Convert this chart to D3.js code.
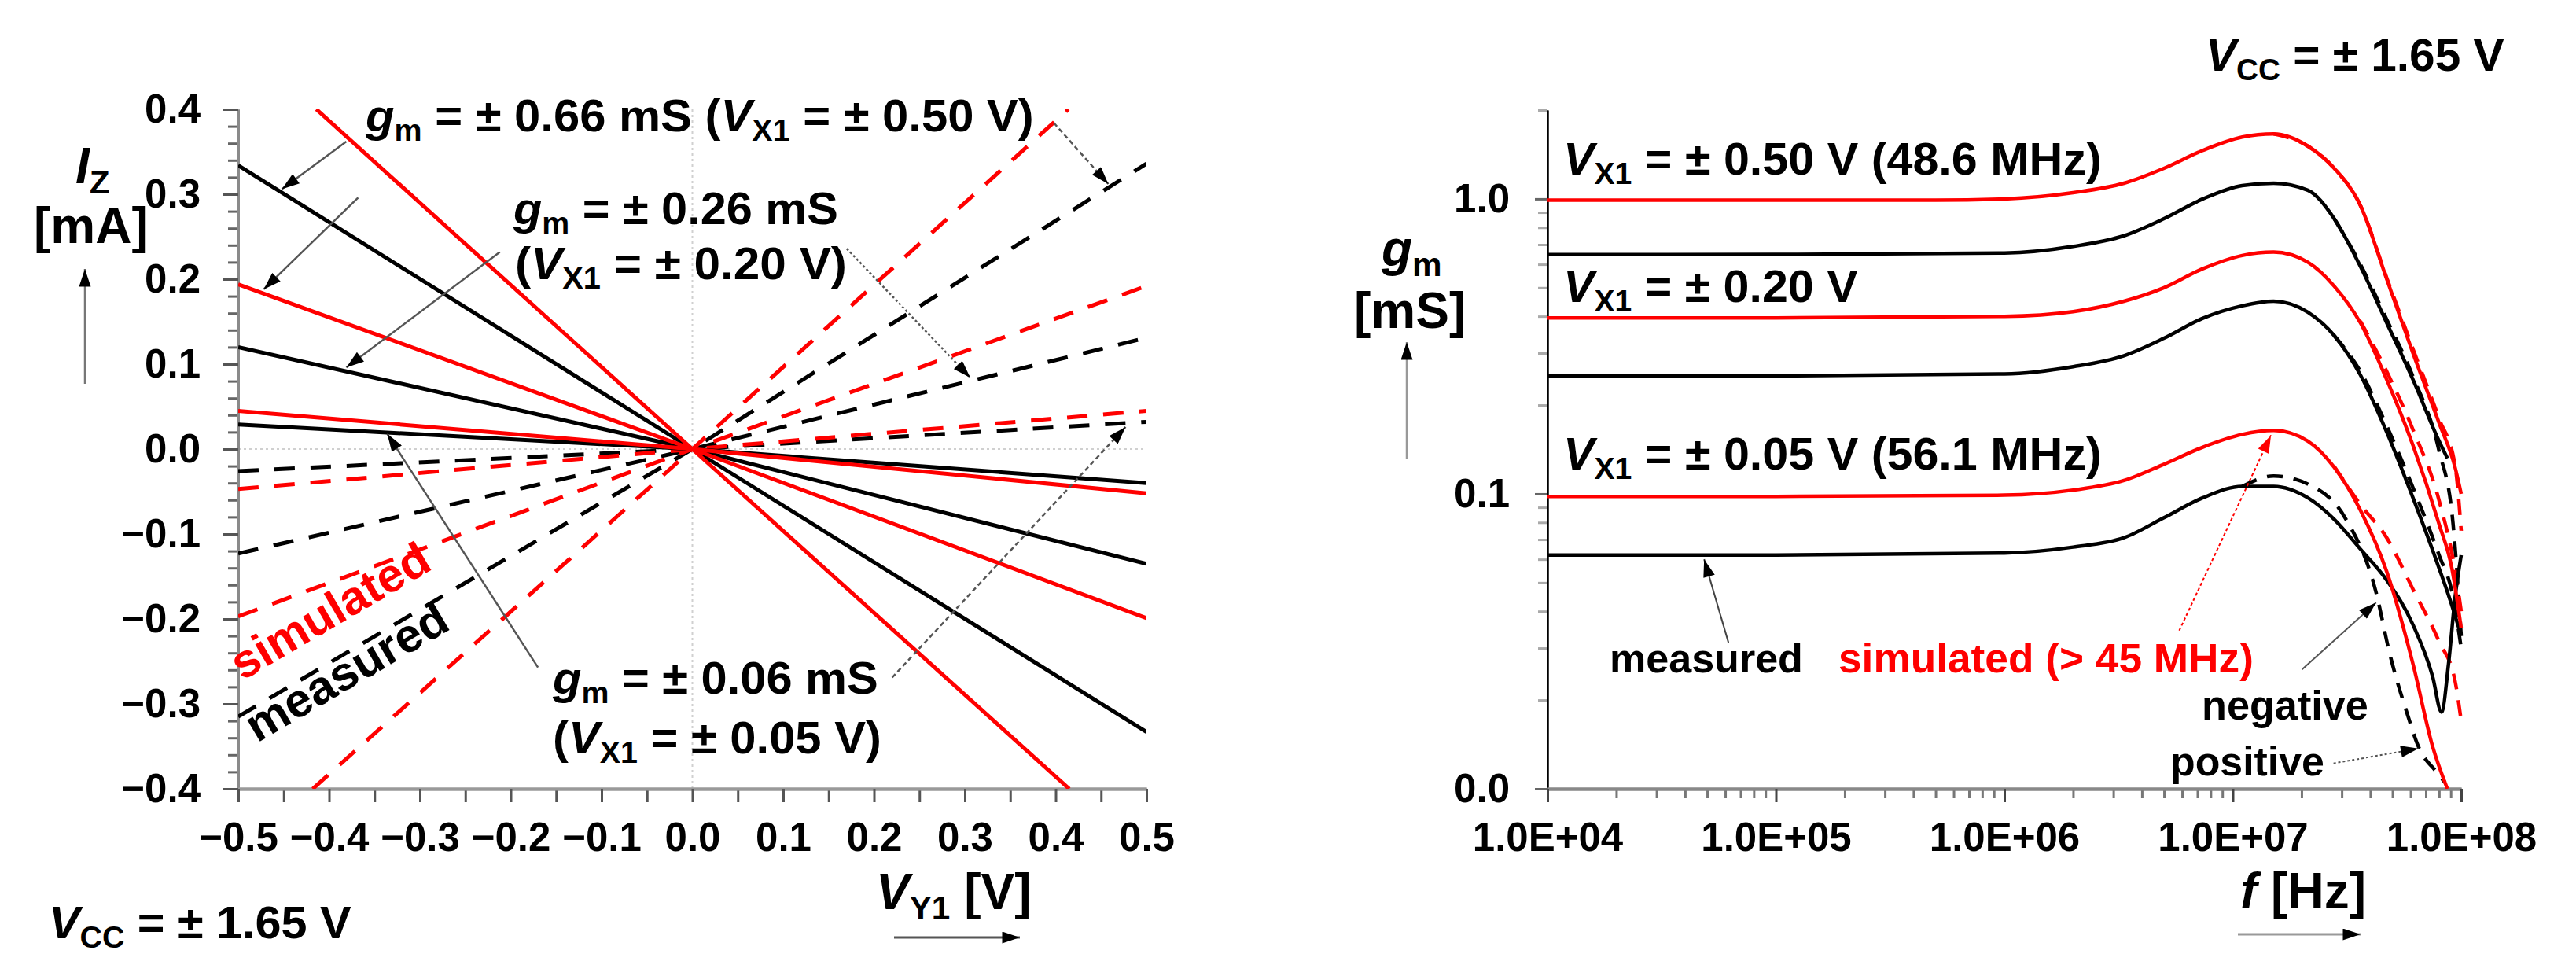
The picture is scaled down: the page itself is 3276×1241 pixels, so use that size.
<!DOCTYPE html>
<html>
<head>
<meta charset="utf-8">
<script src="https://cdn.jsdelivr.net/npm/d3@7"></script>
<style>
body { margin: 0; background: #fff; }
text { font-family: "Liberation Sans", Arial, sans-serif; font-weight: bold; }
</style>
</head>
<body>
<svg id="chart" width="3276" height="1241"></svg>
<script>
var RED = "#ff0000";
var BLACK = "#000000";

// ---- left panel: I_Z [mA] vs V_Y1 [V] ----
var vy1Major = [-0.5, -0.4, -0.3, -0.2, -0.1, 0.0, 0.1, 0.2, 0.3, 0.4, 0.5];
var vy1Minor = [-0.45, -0.35, -0.25, -0.15, -0.05, 0.05, 0.15, 0.25, 0.35, 0.45];
var izMajor = [-0.4, -0.3, -0.2, -0.1, 0.0, 0.1, 0.2, 0.3, 0.4];
var izMinor = [-0.38, -0.36, -0.34, -0.32, -0.28, -0.26, -0.24, -0.22, -0.18, -0.16, -0.14, -0.12,
               -0.08, -0.06, -0.04, -0.02, 0.02, 0.04, 0.06, 0.08, 0.12, 0.14, 0.16, 0.18,
               0.22, 0.24, 0.26, 0.28, 0.32, 0.34, 0.36, 0.38];

// [V_Y1, I_Z]
var simSolid066 = [[-0.414, 0.40], [0, 0], [0.415, -0.40]];
var measSolid066 = [[-0.5, 0.334], [0, 0], [0.5, -0.333]];
var simSolid026 = [[-0.5, 0.194], [0, 0], [0.5, -0.199]];
var measSolid026 = [[-0.5, 0.120], [0, 0], [0.5, -0.135]];
var simSolid006 = [[-0.5, 0.045], [0, 0], [0.5, -0.052]];
var measSolid006 = [[-0.5, 0.029], [0, 0], [0.5, -0.040]];
var simDash066 = [[-0.418, -0.40], [0, 0], [0.414, 0.40]];
var measDash066 = [[-0.5, -0.315], [0, 0], [0.5, 0.336]];
var simDash026 = [[-0.5, -0.197], [0, 0], [0.5, 0.192]];
var measDash026 = [[-0.5, -0.123], [0, 0], [0.5, 0.131]];
var simDash006 = [[-0.5, -0.047], [0, 0], [0.5, 0.045]];
var measDash006 = [[-0.5, -0.026], [0, 0], [0.5, 0.032]];

// ---- right panel: g_m [mS] vs f [Hz] ----
var fMajor = [1e4, 1e5, 1e6, 1e7, 1e8];
var fLabels = ["1.0E+04", "1.0E+05", "1.0E+06", "1.0E+07", "1.0E+08"];
var fMinor = [2e4, 3e4, 4e4, 5e4, 6e4, 7e4, 8e4, 9e4,
              2e5, 3e5, 4e5, 5e5, 6e5, 7e5, 8e5, 9e5,
              2e6, 3e6, 4e6, 5e6, 6e6, 7e6, 8e6, 9e6,
              2e7, 3e7, 4e7, 5e7, 6e7, 7e7, 8e7, 9e7];
var gmMajor = [0.01, 0.1, 1];
var gmLabels = ["0.0", "0.1", "1.0"];
var gmMinor = [0.02, 0.03, 0.04, 0.05, 0.06, 0.07, 0.08, 0.09,
               0.2, 0.3, 0.4, 0.5, 0.6, 0.7, 0.8, 0.9, 2];

// [f, g_m]
var simG050 = [[1e4, 0.99], [1e5, 0.99], [5e5, 0.99], [1e6, 1.0], [2e6, 1.05], [3.34e6, 1.13], [5e6, 1.27],
               [7.4e6, 1.46], [1.1e7, 1.62], [1.51e7, 1.66], [2.13e7, 1.51], [2.78e7, 1.27], [3.62e7, 0.95],
               [4.72e7, 0.535], [6.15e7, 0.30], [8e7, 0.174], [9.4e7, 0.123], [1e8, 0.10]];
var simG050n = [[1.51e7, 1.66], [2.13e7, 1.51], [2.78e7, 1.27], [3.62e7, 0.95], [4.72e7, 0.54],
                [6.15e7, 0.31], [8e7, 0.18], [9.4e7, 0.125], [1e8, 0.075]];
var measG050 = [[1e4, 0.647], [1e5, 0.648], [1e6, 0.655], [2e6, 0.69], [3.34e6, 0.75], [5e6, 0.857],
                [7.4e6, 1.0], [1.1e7, 1.11], [1.51e7, 1.13], [2.13e7, 1.07], [2.78e7, 0.857], [3.62e7, 0.59],
                [4.72e7, 0.38], [6.15e7, 0.244], [8e7, 0.151], [8.7e7, 0.132]];
var measG050n = [[2.78e7, 0.857], [3.62e7, 0.60], [4.72e7, 0.39], [6.15e7, 0.25], [8e7, 0.14],
                 [9.2e7, 0.08], [1e8, 0.033]];
var simG020 = [[1e4, 0.395], [1e5, 0.395], [1e6, 0.40], [2e6, 0.415], [3.34e6, 0.45], [5e6, 0.50],
               [7.4e6, 0.58], [1.1e7, 0.643], [1.51e7, 0.66], [2.13e7, 0.61], [2.78e7, 0.506], [3.62e7, 0.38],
               [4.72e7, 0.244], [6.15e7, 0.146], [8e7, 0.079], [9.1e7, 0.056], [1e8, 0.035]];
var simG020n = [[3.62e7, 0.385], [4.72e7, 0.26], [6.15e7, 0.165], [8e7, 0.095], [9.4e7, 0.055], [1e8, 0.04]];
var measG020 = [[1e4, 0.251], [1e5, 0.251], [1e6, 0.255], [2e6, 0.27], [3.34e6, 0.294], [5e6, 0.337],
                [7.4e6, 0.394], [1.1e7, 0.434], [1.51e7, 0.45], [2.13e7, 0.413], [2.78e7, 0.344], [3.62e7, 0.253],
                [4.72e7, 0.162], [6.15e7, 0.097], [8e7, 0.056], [9e7, 0.043], [1e8, 0.033]];
var measG020n = [[2.78e7, 0.344], [3.62e7, 0.26], [4.72e7, 0.17], [6.15e7, 0.105], [8e7, 0.062],
                 [9.2e7, 0.045], [1e8, 0.03]];
var simG005 = [[1e4, 0.098], [1e5, 0.098], [1e6, 0.099], [2e6, 0.103], [3.34e6, 0.111], [5e6, 0.126],
               [7.4e6, 0.144], [1.1e7, 0.159], [1.51e7, 0.164], [2.13e7, 0.151], [2.78e7, 0.123], [3.62e7, 0.088],
               [4.72e7, 0.0545], [6.15e7, 0.0265], [7.5e7, 0.0139], [8.7e7, 0.01]];
var simG005n = [[2.78e7, 0.124], [3.62e7, 0.092], [4.72e7, 0.071], [6.15e7, 0.0475], [8e7, 0.0316],
                [9.4e7, 0.0232], [1e8, 0.017]];
var measG005 = [[1e4, 0.062], [1e5, 0.062], [1e6, 0.063], [2e6, 0.066], [3.34e6, 0.071], [5e6, 0.083],
                [7.4e6, 0.097], [1.1e7, 0.106], [1.51e7, 0.106], [2.13e7, 0.097], [2.78e7, 0.082], [3.62e7, 0.065],
                [4.72e7, 0.051], [6.15e7, 0.036], [7.5e7, 0.024], [8.2e7, 0.0182], [8.8e7, 0.0265],
                [9.4e7, 0.0445], [1e8, 0.062]];
var measG005n = [[1.1e7, 0.106], [1.51e7, 0.115], [2.13e7, 0.108], [3.1e7, 0.083], [4.25e7, 0.046],
                 [4.85e7, 0.029], [5.8e7, 0.018], [6.5e7, 0.0139], [7.8e7, 0.0114], [8.5e7, 0.0105]];

var svg = d3.select("#chart");

var defs = svg.append("defs");
function addMarker(id, color) {
    defs.append("marker")
        .attr("id", id)
        .attr("viewBox", "0 0 12 8")
        .attr("refX", 12).attr("refY", 4)
        .attr("markerUnits", "userSpaceOnUse")
        .attr("markerWidth", 26).attr("markerHeight", 15)
        .attr("orient", "auto")
        .append("path").attr("d", "M0,0 L12,4 L0,8 z").attr("fill", color);
}
addMarker("arr", BLACK);
addMarker("arrRed", RED);

// text with italic / subscript parts, stretched to a given width
function addLabel(parent, parts, x, y, size, color, width, angle) {
    var t = parent.append("text")
        .attr("x", x).attr("y", y)
        .attr("font-size", size)
        .attr("fill", color);
    var down = false;
    parts.forEach(function(p) {
        var s = t.append("tspan").text(p[0]);
        if (p[1] == "i") s.attr("font-style", "italic");
        if (p[1] == "s") {
            s.attr("font-size", size * 0.66).attr("dy", size * 0.2);
            down = true;
        } else if (down) {
            s.attr("dy", -size * 0.2);
            down = false;
        }
    });
    var tr = "";
    if (angle) tr += "rotate(" + angle + "," + x + "," + y + ") ";
    if (width) {
        var w = t.node().getBBox().width;
        tr += "translate(" + x + ",0) scale(" + (width / w) + ",1) translate(" + (-x) + ",0)";
    }
    if (tr) t.attr("transform", tr);
    return t;
}

function styleAxis(g, size, domainColor, domainWidth, tickColor) {
    g.attr("font-size", size).attr("font-family", null);
    g.select(".domain").attr("stroke", domainColor).attr("stroke-width", domainWidth);
    g.selectAll(".tick line").attr("stroke", tickColor).attr("stroke-width", 3);
    g.selectAll(".tick text").attr("fill", BLACK);
}

function arrowLine(parent, x1, y1, x2, y2, color, dash, marker, width) {
    parent.append("line")
        .attr("x1", x1).attr("y1", y1).attr("x2", x2).attr("y2", y2)
        .attr("stroke", color)
        .attr("stroke-width", width || 2.5)
        .attr("stroke-dasharray", dash)
        .attr("marker-end", "url(#" + marker + ")");
}

function draw_left() {
    var xL = d3.scaleLinear().domain([-0.5, 0.5]).range([303, 1458]);
    var yL = d3.scaleLinear().domain([-0.4, 0.4]).range([1003, 139]);
    var g = svg.append("g").attr("class", "left");

    g.append("clipPath").attr("id", "clipL").append("rect")
        .attr("x", xL(-0.5)).attr("y", yL(0.4))
        .attr("width", xL(0.5) - xL(-0.5)).attr("height", yL(-0.4) - yL(0.4));

    // faint zero lines
    g.append("line").attr("x1", xL(0)).attr("x2", xL(0)).attr("y1", yL(0.4)).attr("y2", yL(-0.4))
        .attr("stroke", "#d0d0d0").attr("stroke-width", 2).attr("stroke-dasharray", "3,4");
    g.append("line").attr("x1", xL(-0.5)).attr("x2", xL(0.5)).attr("y1", yL(0)).attr("y2", yL(0))
        .attr("stroke", "#d0d0d0").attr("stroke-width", 2).attr("stroke-dasharray", "3,4");

    // axes
    var yMinorAxis = g.append("g").attr("transform", "translate(" + xL(-0.5) + ",0)")
        .call(d3.axisLeft(yL).tickValues(izMinor).tickSize(13).tickSizeOuter(0).tickFormat(""));
    styleAxis(yMinorAxis, 51, "#8a8a8a", 3, "#666");
    var yAxis = g.append("g").attr("transform", "translate(" + xL(-0.5) + ",0)")
        .call(d3.axisLeft(yL).tickValues(izMajor).tickSize(19).tickSizeOuter(0).tickPadding(29)
            .tickFormat(d3.format(".1f")));
    styleAxis(yAxis, 51, "#8a8a8a", 3, "#555");

    var xMinorAxis = g.append("g").attr("transform", "translate(0," + yL(-0.4) + ")")
        .call(d3.axisBottom(xL).tickValues(vy1Minor).tickSize(17).tickSizeOuter(0).tickFormat(""));
    styleAxis(xMinorAxis, 51, "#999", 4, "#555");
    var xAxis = g.append("g").attr("transform", "translate(0," + yL(-0.4) + ")")
        .call(d3.axisBottom(xL).tickValues(vy1Major).tickSize(17).tickSizeOuter(0).tickPadding(26)
            .tickFormat(d3.format(".1f")));
    styleAxis(xAxis, 51, "#999", 4, "#555");

    var series = [
        {pts: measDash066, color: BLACK, dash: true},
        {pts: measDash026, color: BLACK, dash: true},
        {pts: measDash006, color: BLACK, dash: true},
        {pts: simDash066, color: RED, dash: true},
        {pts: simDash026, color: RED, dash: true},
        {pts: simDash006, color: RED, dash: true},
        {pts: measSolid066, color: BLACK, dash: false},
        {pts: measSolid026, color: BLACK, dash: false},
        {pts: measSolid006, color: BLACK, dash: false},
        {pts: simSolid066, color: RED, dash: false},
        {pts: simSolid026, color: RED, dash: false},
        {pts: simSolid006, color: RED, dash: false}
    ];
    var line = d3.line().x(function(d) { return xL(d[0]); }).y(function(d) { return yL(d[1]); });
    g.append("g").attr("clip-path", "url(#clipL)")
        .selectAll("path").data(series).enter().append("path")
        .attr("d", function(d) { return line(d.pts); })
        .attr("fill", "none")
        .attr("stroke", function(d) { return d.color; })
        .attr("stroke-width", 5)
        .attr("stroke-dasharray", function(d) { return d.dash ? "26,20" : null; });

    // leader arrows, in data units
    var leaders = [
        {from: [-0.381, 0.362], to: [-0.452, 0.306], dash: null},
        {from: [-0.368, 0.296], to: [-0.472, 0.188], dash: null},
        {from: [-0.212, 0.232], to: [-0.381, 0.096], dash: null},
        {from: [0.398, 0.384], to: [0.458, 0.312], dash: "6,4"},
        {from: [0.170, 0.236], to: [0.306, 0.084], dash: "3,3"},
        {from: [-0.170, -0.257], to: [-0.336, 0.018], dash: null},
        {from: [0.220, -0.269], to: [0.477, 0.026], dash: "6,4"}
    ];
    leaders.forEach(function(l) {
        arrowLine(g, xL(l.from[0]), yL(l.from[1]), xL(l.to[0]), yL(l.to[1]), "#555", l.dash, "arr");
    });

    addLabel(g, [["g", "i"], ["m", "s"], [" = ± 0.66 mS (", ""], ["V", "i"], ["X1", "s"], [" = ± 0.50 V)", ""]],
        465, 167, 58, BLACK, 851);
    addLabel(g, [["g", "i"], ["m", "s"], [" = ± 0.26 mS", ""]], 653, 285, 58, BLACK, 414);
    addLabel(g, [["(", ""], ["V", "i"], ["X1", "s"], [" = ± 0.20 V)", ""]], 655, 355, 58, BLACK, 422);
    addLabel(g, [["g", "i"], ["m", "s"], [" = ± 0.06 mS", ""]], 703, 882, 58, BLACK, 415);
    addLabel(g, [["(", ""], ["V", "i"], ["X1", "s"], [" = ± 0.05 V)", ""]], 703, 958, 58, BLACK, 418);
    addLabel(g, [["simulated", ""]], 308, 866, 60, RED, 283, -30.4);
    addLabel(g, [["measured", ""]], 327, 945, 60, BLACK, 288, -30.5);

    addLabel(g, [["I", "i"], ["Z", "s"]], 96, 233, 64, BLACK, null);
    addLabel(g, [["[mA]", ""]], 43, 309, 64, BLACK, null);
    arrowLine(g, 108, 488, 108, 342, "#777", null, "arr");

    addLabel(g, [["V", "i"], ["Y1", "s"], [" [V]", ""]], 1114, 1156, 64, BLACK, null);
    arrowLine(g, 1137, 1192, 1297, 1192, "#555", null, "arr", 3);

    addLabel(g, [["V", "i"], ["CC", "s"], [" = ± 1.65 V", ""]], 62, 1193, 58, BLACK, 385);
}

function draw_right() {
    var xR = d3.scaleLog().domain([1e4, 1e8]).range([1968, 3130]);
    var yR = d3.scaleLog().domain([0.01, 2]).range([1003, 140]);
    var g = svg.append("g").attr("class", "right");

    g.append("clipPath").attr("id", "clipR").append("rect")
        .attr("x", xR(1e4)).attr("y", yR(2))
        .attr("width", xR(1e8) - xR(1e4) + 4).attr("height", yR(0.01) - yR(2));

    var yMinorAxis = g.append("g").attr("transform", "translate(" + xR(1e4) + ",0)")
        .call(d3.axisLeft(yR).tickValues(gmMinor).tickSize(12).tickSizeOuter(0).tickFormat(""));
    styleAxis(yMinorAxis, 51, BLACK, 2, "#aaa");
    var yAxis = g.append("g").attr("transform", "translate(" + xR(1e4) + ",0)")
        .call(d3.axisLeft(yR).tickValues(gmMajor).tickSize(16).tickSizeOuter(0).tickPadding(32)
            .tickFormat(function(d, i) { return gmLabels[i]; }));
    styleAxis(yAxis, 51, BLACK, 2, "#666");

    var xMinorAxis = g.append("g").attr("transform", "translate(0," + yR(0.01) + ")")
        .call(d3.axisBottom(xR).tickValues(fMinor).tickSize(12).tickSizeOuter(0).tickFormat(""));
    styleAxis(xMinorAxis, 51, "#888", 4, "#777");
    var xAxis = g.append("g").attr("transform", "translate(0," + yR(0.01) + ")")
        .call(d3.axisBottom(xR).tickValues(fMajor).tickSize(17).tickSizeOuter(0).tickPadding(26)
            .tickFormat(function(d, i) { return fLabels[i]; }));
    styleAxis(xAxis, 51, "#888", 4, "#444");

    var series = [
        {pts: measG050n, color: BLACK, dash: true},
        {pts: measG020n, color: BLACK, dash: true},
        {pts: measG005n, color: BLACK, dash: true},
        {pts: simG050n, color: RED, dash: true},
        {pts: simG020n, color: RED, dash: true},
        {pts: simG005n, color: RED, dash: true},
        {pts: measG050, color: BLACK, dash: false},
        {pts: measG020, color: BLACK, dash: false},
        {pts: measG005, color: BLACK, dash: false},
        {pts: simG050, color: RED, dash: false},
        {pts: simG020, color: RED, dash: false},
        {pts: simG005, color: RED, dash: false}
    ];
    var line = d3.line().curve(d3.curveMonotoneX)
        .x(function(d) { return xR(d[0]); }).y(function(d) { return yR(d[1]); });
    g.append("g").attr("clip-path", "url(#clipR)")
        .selectAll("path").data(series).enter().append("path")
        .attr("d", function(d) { return line(d.pts); })
        .attr("fill", "none")
        .attr("stroke", function(d) { return d.color; })
        .attr("stroke-width", 4.5)
        .attr("stroke-dasharray", function(d) { return d.dash ? "20,14" : null; });

    var leaders = [
        {from: [5.83e6, 0.0344], to: [1.47e7, 0.158], color: RED, dash: "4,3", marker: "arrRed"},
        {from: [6.2e4, 0.0313], to: [4.85e4, 0.060], color: "#444", dash: null, marker: "arr"},
        {from: [2.01e7, 0.0254], to: [4.24e7, 0.0428], color: "#555", dash: null, marker: "arr"},
        {from: [2.76e7, 0.0122], to: [6.5e7, 0.0137], color: "#555", dash: "3,3", marker: "arr"}
    ];
    leaders.forEach(function(l) {
        arrowLine(g, xR(l.from[0]), yR(l.from[1]), xR(l.to[0]), yR(l.to[1]), l.color, l.dash, l.marker, 2);
    });

    addLabel(g, [["V", "i"], ["X1", "s"], [" = ± 0.50 V (48.6 MHz)", ""]], 1988, 222, 58, BLACK, 685);
    addLabel(g, [["V", "i"], ["X1", "s"], [" = ± 0.20 V", ""]], 1988, 384, 58, BLACK, 375);
    addLabel(g, [["V", "i"], ["X1", "s"], [" = ± 0.05 V (56.1 MHz)", ""]], 1988, 597, 58, BLACK, 685);
    addLabel(g, [["measured", ""]], 2047, 855, 52, BLACK, 246);
    addLabel(g, [["simulated (> 45 MHz)", ""]], 2338, 855, 52, RED, 528);
    addLabel(g, [["negative", ""]], 2800, 915, 52, BLACK, 212);
    addLabel(g, [["positive", ""]], 2760, 986, 52, BLACK, 196);

    addLabel(g, [["g", "i"], ["m", "s"]], 1757, 338, 64, BLACK, null);
    addLabel(g, [["[mS]", ""]], 1722, 417, 64, BLACK, null);
    arrowLine(g, 1789, 583, 1789, 435, "#999", null, "arr");

    addLabel(g, [["f", "i"], [" [Hz]", ""]], 2849, 1155, 64, BLACK, null);
    arrowLine(g, 2846, 1188, 3002, 1188, "#999", null, "arr", 3);

    addLabel(g, [["V", "i"], ["CC", "s"], [" = ± 1.65 V", ""]], 2805, 90, 58, BLACK, 380);
}

draw_left();
draw_right();
</script>
</body>
</html>
